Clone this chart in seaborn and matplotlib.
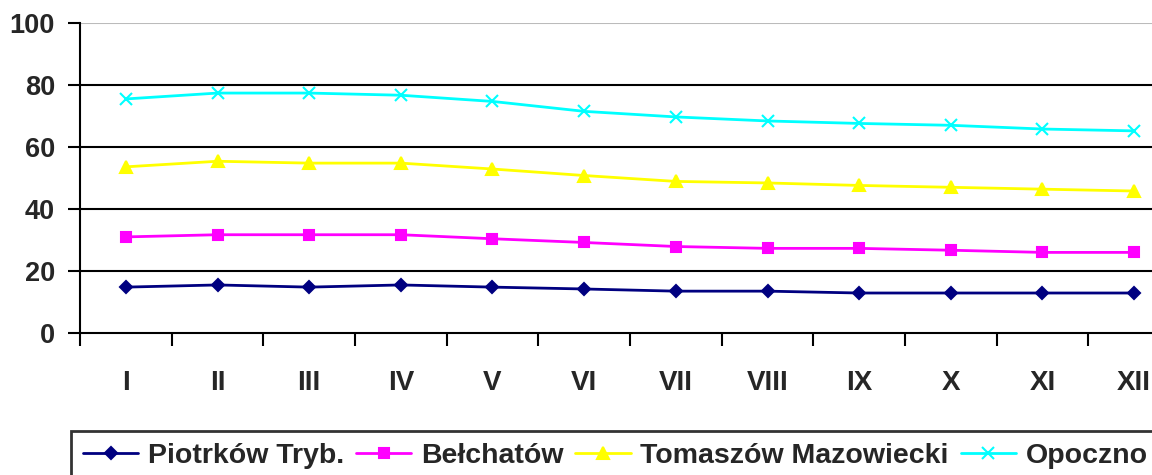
#!/usr/bin/env python3
"""Monthly index per county (Piotrków, Bełchatów, Tomaszów, Opoczno)."""
import pandas as pd
import matplotlib
matplotlib.use("Agg")
import matplotlib.pyplot as plt
import seaborn as sns

months = ["I", "II", "III", "IV", "V", "VI", "VII", "VIII", "IX", "X", "XI", "XII"]
piotrkow = [14.8, 15.5, 14.8, 15.5, 14.8, 14.2, 13.5, 13.5, 12.9, 12.9, 12.9, 12.9]
belchatow = [31.0, 31.7, 31.7, 31.7, 30.4, 29.2, 27.9, 27.3, 27.3, 26.7, 26.0, 26.0]
tomaszow = [53.6, 55.4, 54.8, 54.8, 52.9, 50.8, 48.9, 48.4, 47.6, 47.0, 46.4, 45.8]
opoczno = [75.5, 77.4, 77.4, 76.7, 74.7, 71.5, 69.7, 68.4, 67.6, 67.0, 65.8, 65.2]

series = [
    ("Piotrków Tryb.", piotrkow, "#000080", "D", 8),
    ("Bełchatów", belchatow, "#FF00FF", "s", 9),
    ("Tomaszów Mazowiecki", tomaszow, "#FFFF00", "^", 10),
    ("Opoczno", opoczno, "#00FFFF", "x", 10),
]

sns.set_theme(style="white")
plt.rcParams["font.family"] = ["Liberation Sans", "DejaVu Sans"]

fig = plt.figure(figsize=(11.52, 4.75), dpi=100)
ax = fig.add_axes([80 / 1152, 1 - 333 / 475, 1100 / 1152, 310 / 475])

x = list(range(len(months)))
for name, vals, color, marker, ms in series:
    df = pd.DataFrame({"x": x, "v": vals})
    sns.lineplot(data=df, x="x", y="v", ax=ax, color=color, marker=marker,
                 markersize=ms, markeredgecolor=color, markeredgewidth=1.5,
                 linewidth=2, label=name, legend=False)

ax.set_xlim(-0.5, len(months) - 0.5)
ax.set_ylim(0, 100)
ax.set_xlabel("")
ax.set_ylabel("")

for yv in (20, 40, 60, 80):
    ax.axhline(yv, color="black", linewidth=1.5, zorder=0)
ax.axhline(100, color="#BBBBBB", linewidth=1.5, zorder=0)

for s in ("top", "right"):
    ax.spines[s].set_visible(False)
for s in ("left", "bottom"):
    ax.spines[s].set_color("black")
    ax.spines[s].set_linewidth(1.5)

ax.set_yticks(range(0, 101, 20))
ax.set_yticklabels([str(v) for v in range(0, 101, 20)], fontsize=19.5, fontweight="bold")
ax.set_xticks([i - 0.5 for i in range(len(months) + 1)])
ax.set_xticklabels([])
ax.set_xticks(x, minor=True)
ax.set_xticklabels(months, minor=True, fontsize=20, fontweight="bold")
ax.tick_params(axis="x", which="major", direction="out", length=9, width=1.5,
               color="black", bottom=True)
ax.tick_params(axis="x", which="minor", length=0, pad=27)
ax.tick_params(axis="y", direction="out", length=9, width=1.5, color="black",
               left=True, pad=9)

handles, labels = ax.get_legend_handles_labels()
for h in handles:
    h.set_markersize(h.get_markersize() * 0.8)
leg = fig.legend(handles, labels, loc="upper left", bbox_to_anchor=(71 / 1152, 1 - 431 / 475),
                 ncol=4, frameon=True, fancybox=False, edgecolor="black",
                 prop={"weight": "bold", "size": 20.5}, handlelength=1.95,
                 columnspacing=0.42, handletextpad=0.33, borderpad=0.42, borderaxespad=0)
leg.get_frame().set_linewidth(2)

fig.savefig("out.png", dpi=100)
